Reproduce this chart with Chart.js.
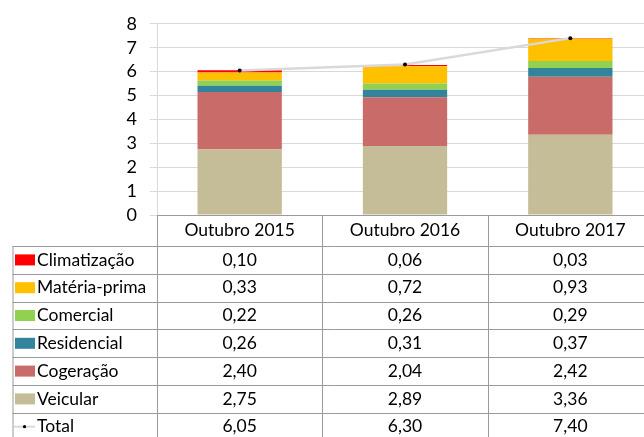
<!DOCTYPE html>
<html>
<head>
<meta charset="utf-8">
<script src="https://cdn.jsdelivr.net/npm/chart.js@4.4.1/dist/chart.umd.min.js"></script>
<style>
  html, body { margin: 0; padding: 0; background: #fff; }
  #wrap { width: 644px; height: 437px; overflow: hidden; position: relative; }
  canvas { display: block; }
</style>
</head>
<body>
<div id="wrap">
  <canvas id="chart" width="657" height="445"></canvas>
</div>
<script>
// data
const categories = ['Outubro 2015', 'Outubro 2016', 'Outubro 2017'];
const veicular = [2.75, 2.89, 3.36];
const cogeracao = [2.40, 2.04, 2.42];
const residencial = [0.26, 0.31, 0.37];
const comercial = [0.22, 0.26, 0.29];
const materiaPrima = [0.33, 0.72, 0.93];
const climatizacao = [0.10, 0.06, 0.03];
const total = [6.05, 6.30, 7.40];
const yTicks = [0, 1, 2, 3, 4, 5, 6, 7, 8];

const FONT = 'Lato, "Open Sans", sans-serif';
const LINE_COLOR = '#9a9a9a';

// bottom-up stack order
const barSeries = [
  { label: 'Veicular', data: veicular, color: '#c4bd97' },
  { label: 'Cogeração', data: cogeracao, color: '#c96b68' },
  { label: 'Residencial', data: residencial, color: '#31849b' },
  { label: 'Comercial', data: comercial, color: '#92d050' },
  { label: 'Matéria-prima', data: materiaPrima, color: '#ffc000' },
  { label: 'Climatização', data: climatizacao, color: '#ff0000' }
];

const fmt = v => v.toFixed(2).replace('.', ',');

// draws the data table under the plot (Excel style)
const dataTable = {
  id: 'dataTable',
  afterDraw(chart) {
    const ctx = chart.ctx;
    const x = chart.scales.x;
    const W = chart.width;
    const area = chart.chartArea;
    const headTop = area.bottom;
    const headH = 31;
    const rowH = 27.8;
    const tableLeft = 12.5;
    const half = (x.getPixelForValue(1) - x.getPixelForValue(0)) / 2;

    const rows = barSeries.slice().reverse().map(s => ({ label: s.label, data: s.data, color: s.color }));
    rows.push({ label: 'Total', data: total, isLine: true });

    ctx.save();
    ctx.strokeStyle = LINE_COLOR;
    ctx.lineWidth = 1;
    ctx.beginPath();
    // axis / header top
    ctx.moveTo(area.left, Math.round(headTop) + 0.5);
    ctx.lineTo(W, Math.round(headTop) + 0.5);
    for (let r = 0; r <= rows.length; r++) {
      const y = Math.round(headTop + headH + r * rowH) + 0.5;
      ctx.moveTo(tableLeft, y);
      ctx.lineTo(W, y);
    }
    const bottom = headTop + headH + rows.length * rowH;
    ctx.moveTo(tableLeft + 0.5, headTop + headH);
    ctx.lineTo(tableLeft + 0.5, bottom);
    for (let i = 0; i <= categories.length; i++) {
      const cx = Math.round(x.getPixelForValue(0) - half + i * 2 * half) + 0.5;
      ctx.moveTo(cx, headTop);
      ctx.lineTo(cx, bottom);
    }
    ctx.stroke();

    ctx.fillStyle = '#000';
    ctx.font = '17.5px ' + FONT;
    ctx.textBaseline = 'middle';
    ctx.textAlign = 'center';
    categories.forEach((c, i) => {
      ctx.fillText(c, x.getPixelForValue(i), headTop + headH / 2);
    });

    rows.forEach((row, r) => {
      const midY = headTop + headH + r * rowH + rowH / 2;
      if (row.isLine) {
        ctx.strokeStyle = '#d9d9d9';
        ctx.lineWidth = 2;
        ctx.beginPath();
        ctx.moveTo(14, midY);
        ctx.lineTo(35, midY);
        ctx.stroke();
        ctx.fillStyle = '#000';
        ctx.beginPath();
        ctx.arc(24.5, midY, 1.6, 0, Math.PI * 2);
        ctx.fill();
      } else {
        ctx.fillStyle = row.color;
        ctx.fillRect(15, midY - 5.5, 20, 11);
      }
      ctx.fillStyle = '#000';
      ctx.textAlign = 'left';
      ctx.fillText(row.label, 37, midY);
      ctx.textAlign = 'center';
      row.data.forEach((v, i) => {
        ctx.fillText(fmt(v), x.getPixelForValue(i), midY);
      });
    });
    ctx.restore();
  }
};

const datasets = barSeries.map(s => ({
  type: 'bar',
  label: s.label,
  data: s.data,
  backgroundColor: s.color,
  borderWidth: 0,
  stack: 'bars',
  order: 1,
  barPercentage: 0.51,
  categoryPercentage: 1
}));

datasets.push({
  type: 'line',
  label: 'Total',
  data: total,
  stack: 'total',
  order: 0,
  borderColor: '#d9d9d9',
  borderWidth: 2.5,
  pointRadius: 2,
  pointBackgroundColor: '#000',
  pointBorderWidth: 0,
  tension: 0
});

new Chart(document.getElementById('chart'), {
  data: { labels: categories, datasets: datasets },
  options: {
    responsive: false,
    devicePixelRatio: 1,
    animation: false,
    layout: { padding: { top: 19, right: 0, bottom: 230, left: 0 } },
    plugins: {
      legend: { display: false },
      tooltip: { enabled: false }
    },
    scales: {
      x: {
        display: false,
        stacked: true
      },
      y: {
        stacked: true,
        min: 0,
        max: 8,
        afterFit(scale) { scale.width = 157; },
        afterBuildTicks(scale) { scale.ticks = yTicks.map(v => ({ value: v })); },
        border: { color: '#d9d9d9' },
        grid: { color: '#d9d9d9', tickColor: '#d9d9d9', tickLength: 7 },
        ticks: {
          autoSkip: false,
          padding: 13,
          color: '#000',
          font: { family: FONT, size: 18 }
        }
      }
    }
  },
  plugins: [dataTable]
});
</script>
</body>
</html>
